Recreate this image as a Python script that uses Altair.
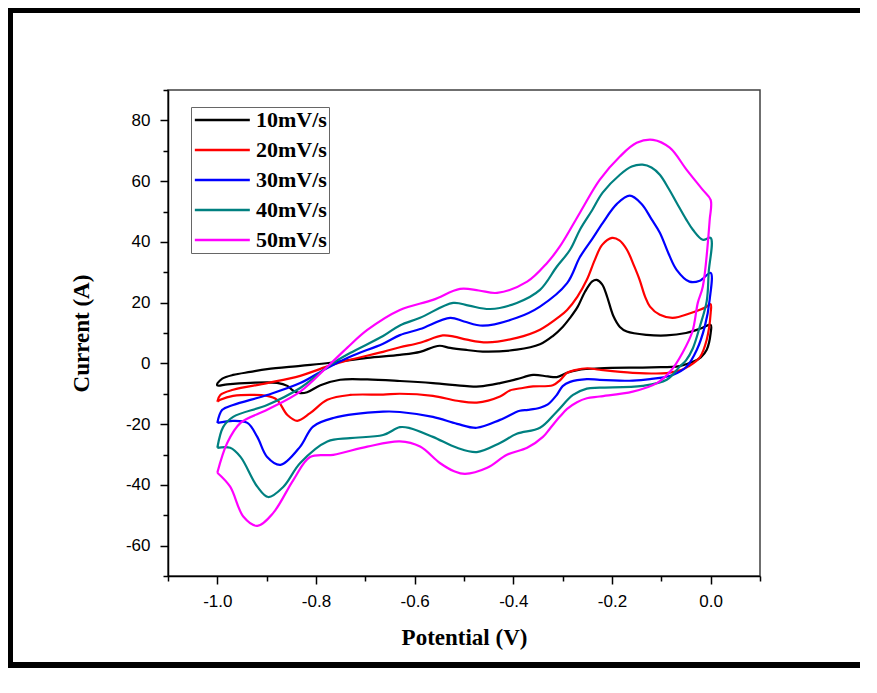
import altair as alt
import pandas as pd

rates = ["10mV/s", "20mV/s", "30mV/s", "40mV/s", "50mV/s"]
colors = ["#000000", "#FF0000", "#0000FF", "#008080", "#FF00FF"]

pot_10 = [-1.0, -0.99, -0.968, -0.933, -0.899, -0.832, -0.771, -0.696, -0.63, -0.589, -0.563, -0.549, -0.528, -0.494,
          -0.462, -0.393, -0.346, -0.32, -0.30, -0.285, -0.27, -0.255, -0.24, -0.231, -0.22, -0.21, -0.197, -0.184,
          -0.17, -0.13, -0.09, -0.05, -0.02, 0.0,
          0.0, -0.008, -0.02, -0.036, -0.063, -0.12, -0.225, -0.27, -0.291, -0.312, -0.33, -0.36, -0.393, -0.427,
          -0.468, -0.494, -0.563, -0.63, -0.696, -0.751, -0.791, -0.818, -0.832, -0.846, -0.858, -0.879, -0.933,
          -0.98, -1.0, -1.0]
cur_10 = [-6.6, -5.0, -3.8, -2.8, -1.9, -0.8, 0.2, 1.8, 2.8, 3.8, 5.3, 5.8, 5.1, 4.4,
          3.9, 4.5, 6.3, 9.0, 12.0, 15.0, 18.5, 23.5, 27.0, 27.5, 26.0, 22.0, 15.5, 12.0,
          10.5, 9.4, 9.2, 10.0, 11.5, 12.7,
          10.0, 4.5, 2.0, 0.5, -0.9, -1.3, -1.6, -2.2, -3.1, -4.5, -4.3, -3.8, -5.2, -6.5,
          -7.6, -7.5, -6.5, -5.8, -5.3, -5.4, -7.2, -9.5, -9.8, -9.0, -7.4, -6.4, -6.4,
          -6.9, -7.3, -6.6]

pot_20 = [-1.0, -0.994, -0.968, -0.899, -0.832, -0.777, -0.731, -0.664, -0.63, -0.589, -0.543, -0.52, -0.494, -0.453,
          -0.393, -0.346, -0.306, -0.291, -0.27, -0.251, -0.235, -0.22, -0.2, -0.185, -0.17, -0.155, -0.144, -0.133,
          -0.123, -0.103, -0.077, -0.04, -0.01, 0.0,
          0.0, -0.008, -0.022, -0.045, -0.06, -0.089, -0.158, -0.225, -0.25, -0.275, -0.291, -0.305, -0.32, -0.36,
          -0.381, -0.407, -0.427, -0.474, -0.514, -0.563, -0.63, -0.664, -0.731, -0.777, -0.812, -0.838, -0.858,
          -0.879, -0.899, -0.968, -0.994, -1.0]
cur_20 = [-12.6, -10.4, -8.7, -6.5, -4.1, -1.0, 1.2, 3.8, 5.3, 6.8, 9.2, 8.8, 7.8, 6.9,
          8.4, 11.1, 15.5, 17.6, 22.0, 27.5, 34.0, 39.0, 41.3, 40.5, 37.5, 32.0, 27.5, 22.0,
          18.7, 16.0, 15.0, 16.6, 18.5, 19.5,
          16.6, 7.8, 2.0, -1.0, -2.2, -3.2, -3.1, -2.1, -1.6, -2.2, -3.1, -5.5, -7.2, -7.6,
          -8.1, -8.9, -10.9, -12.9, -12.3, -10.7, -10.0, -10.3, -10.4, -12.0, -16.4, -18.9, -17.0,
          -12.0, -10.7, -10.7, -12.0, -12.6]

pot_30 = [-1.0, -0.99, -0.968, -0.899, -0.832, -0.777, -0.731, -0.664, -0.63, -0.589, -0.528, -0.5, -0.462, -0.393,
          -0.346, -0.291, -0.265, -0.24, -0.219, -0.19, -0.164, -0.14, -0.12, -0.103, -0.085, -0.069, -0.043,
          -0.022, 0.0,
          -0.002, -0.012, -0.028, -0.049, -0.077, -0.123, -0.158, -0.225, -0.251, -0.285, -0.30, -0.312, -0.33,
          -0.346, -0.37, -0.387, -0.427, -0.474, -0.514, -0.563, -0.63, -0.664, -0.765, -0.806, -0.832, -0.872,
          -0.899, -0.919, -0.939, -0.968, -1.0]
cur_30 = [-19.6, -15.3, -13.7, -10.4, -6.5, -1.5, 2.2, 6.5, 9.3, 11.3, 15.0, 13.8, 12.4, 15.0,
          18.7, 26.4, 35.0, 41.0, 46.2, 52.5, 55.2, 52.5, 47.5, 43.0, 36.0, 30.8, 26.9,
          27.2, 29.8,
          21.0, 12.1, 4.5, -1.1, -3.8, -5.2, -5.7, -5.4, -5.2, -6.1, -7.5, -10.4, -13.5,
          -14.6, -15.3, -15.6, -18.6, -21.2, -19.9, -17.6, -16.0, -15.9, -18.0, -20.8, -27.4, -33.4,
          -30.8, -24.2, -19.6, -18.9, -19.6]

pot_40 = [-1.0, -0.988, -0.968, -0.899, -0.832, -0.771, -0.731, -0.664, -0.63, -0.589, -0.522, -0.49, -0.447, -0.393,
          -0.346, -0.312, -0.285, -0.265, -0.24, -0.219, -0.184, -0.16, -0.138, -0.12, -0.103, -0.085, -0.069,
          -0.05, -0.036, -0.016, 0.0,
          -0.004, -0.008, -0.022, -0.036, -0.05, -0.063, -0.089, -0.138, -0.225, -0.251, -0.279, -0.312, -0.346,
          -0.393, -0.427, -0.474, -0.514, -0.563, -0.61, -0.63, -0.664, -0.731, -0.777, -0.832, -0.866, -0.897,
          -0.919, -0.953, -0.974, -1.0]
cur_40 = [-27.8, -20.9, -17.6, -13.7, -8.1, -0.5, 3.4, 9.0, 12.5, 15.0, 19.9, 19.0, 17.9, 19.9,
          24.2, 31.8, 37.4, 44.0, 50.5, 56.2, 62.1, 64.8, 65.4, 64.5, 62.1, 57.5, 52.9,
          47.5, 44.0, 40.7, 41.3,
          30.0, 20.5, 12.1, 5.0, 1.0, -1.1, -5.4, -7.4, -8.0, -8.3, -10.4, -15.9, -21.2,
          -23.2, -26.2, -29.2, -27.8, -24.2, -21.3, -21.0, -23.6, -24.6, -25.7, -32.8, -40.6, -44.0,
          -40.6, -30.8, -27.8, -27.8]

pot_50 = [-1.0, -0.98, -0.953, -0.899, -0.832, -0.777, -0.737, -0.696, -0.63, -0.563, -0.508, -0.47, -0.433, -0.372,
          -0.332, -0.306, -0.265, -0.225, -0.184, -0.15, -0.117, -0.083, -0.049, -0.016, 0.0,
          -0.002, -0.016, -0.026, -0.037, -0.057, -0.079, -0.109, -0.158, -0.225, -0.251, -0.271, -0.291, -0.306,
          -0.326, -0.34, -0.372, -0.413, -0.453, -0.498, -0.52, -0.549, -0.589, -0.63, -0.696, -0.765, -0.812,
          -0.846, -0.887, -0.919, -0.947, -0.974, -1.0]
cur_50 = [-36.0, -26.2, -19.6, -15.3, -9.3, -1.1, 5.1, 11.0, 17.6, 20.9, 24.5, 24.0, 23.2, 26.9,
          33.0, 38.4, 49.6, 60.4, 68.1, 72.6, 73.6, 71.0, 63.8, 57.1, 53.8,
          47.2, 25.2, 20.0, 10.5, 3.5, -2.1, -6.5, -9.3, -10.9, -11.5, -12.8, -15.0, -17.6,
          -21.5, -24.2, -27.8, -30.1, -34.4, -36.4, -35.5, -32.8, -27.4, -25.7, -27.4, -30.1, -30.8,
          -38.4, -49.3, -53.5, -50.5, -40.6, -36.0]

x_ticks = [round(-1.1 + 0.1 * k, 1) + 0.0 for k in range(13)]
y_ticks = list(range(-70, 91, 10))

series = [(rates[0], pot_10, cur_10), (rates[1], pot_20, cur_20), (rates[2], pot_30, cur_30),
          (rates[3], pot_40, cur_40), (rates[4], pot_50, cur_50)]
rows = []
for name, vs, cs in series:
    assert len(vs) == len(cs), name
    for k, (v, c) in enumerate(zip(vs, cs)):
        rows.append({"rate": name, "step": k, "potential": v, "current": c})
df = pd.DataFrame(rows)

W, H = 592, 486
PL, PT, PR, PB = 160, 82, 109, 92
TOTAL_H = PT + H + PB
TOTAL_W = PL + W + PR

lines = alt.Chart(df).mark_line(strokeWidth=2.2, interpolate="catmull-rom").encode(
    x=alt.X("potential:Q",
            scale=alt.Scale(domain=[-1.1, 0.1], nice=False, zero=False),
            axis=alt.Axis(values=x_ticks, grid=False,
                          labelExpr="abs(round(datum.value*10)) % 2 == 0 ? (datum.value < -0.001 ? '-' : '') + format(abs(datum.value), '.1f') : ''",
                          tickSize={"condition": {"test": "abs(round(datum.value*10)) % 2 == 0", "value": 8}, "value": 5},
                          tickColor="black", tickWidth=1.5, domainColor="black", domainWidth=1.5,
                          labelFont="Liberation Sans", labelFontSize=17, labelColor="black",
                          labelPadding=9, labelOverlap=False,
                          title="Potential (V)", titleFont="Liberation Serif", titleFontWeight="bold",
                          titleFontSize=23, titleColor="black", titlePadding=17)),
    y=alt.Y("current:Q",
            scale=alt.Scale(domain=[-70, 90], nice=False, zero=False),
            axis=alt.Axis(values=y_ticks, grid=False,
                          labelExpr="datum.value % 20 == 0 ? '' + datum.value : ''",
                          tickSize={"condition": {"test": "datum.value % 20 == 0", "value": 8}, "value": 5},
                          tickColor="black", tickWidth=1.5, domainColor="black", domainWidth=1.5,
                          labelFont="Liberation Sans", labelFontSize=17, labelColor="black",
                          labelPadding=10, labelOverlap=False,
                          title="Current (A)", titleFont="Liberation Serif", titleFontWeight="bold",
                          titleFontSize=23, titleColor="black", titlePadding=32)),
    color=alt.Color("rate:N", scale=alt.Scale(domain=rates, range=colors),
                    legend=alt.Legend(title=None, orient="none", legendX=23, legendY=17,
                                      symbolType="M-1,0H5", symbolSize=336, symbolStrokeWidth=2.5,
                                      labelFont="Liberation Serif", labelFontWeight="bold",
                                      labelFontSize=22, labelColor="black", labelOffset=41,
                                      rowPadding=8, padding=2, strokeColor="#666666",
                                      labelLimit=300)),
    order=alt.Order("step:Q"),
    detail="rate:N",
)

# thick page frame (top, left, bottom); the frame's right edge is outside the picture
frame = pd.DataFrame({
    "x": [-PL, -PL + 2.5, -PL],
    "x2": [TOTAL_W - PL - 9, -PL + 2.5, TOTAL_W - PL - 9],
    "y": [-PT + 2.5, -PT, TOTAL_H - PT - 3],
    "y2": [-PT + 2.5, TOTAL_H - PT, TOTAL_H - PT - 3],
    "w": [5, 5, 6],
})
frame_rules = alt.Chart(frame).mark_rule(color="black", strokeCap="butt").encode(
    x=alt.X("x:Q", scale=None), x2="x2:Q",
    y=alt.Y("y:Q", scale=None), y2="y2:Q",
    strokeWidth=alt.StrokeWidth("w:Q", scale=None),
)

chart = alt.layer(lines, frame_rules).resolve_scale(x="independent", y="independent").properties(
    width=W, height=H,
    padding={"left": PL, "top": PT, "right": PR, "bottom": PB},
    autosize=alt.AutoSizeParams(type="none"),
    background="white",
).configure_view(stroke="#404040", strokeWidth=1.5)

chart.save("out.html", embed_options={"renderer": "svg", "actions": False})
